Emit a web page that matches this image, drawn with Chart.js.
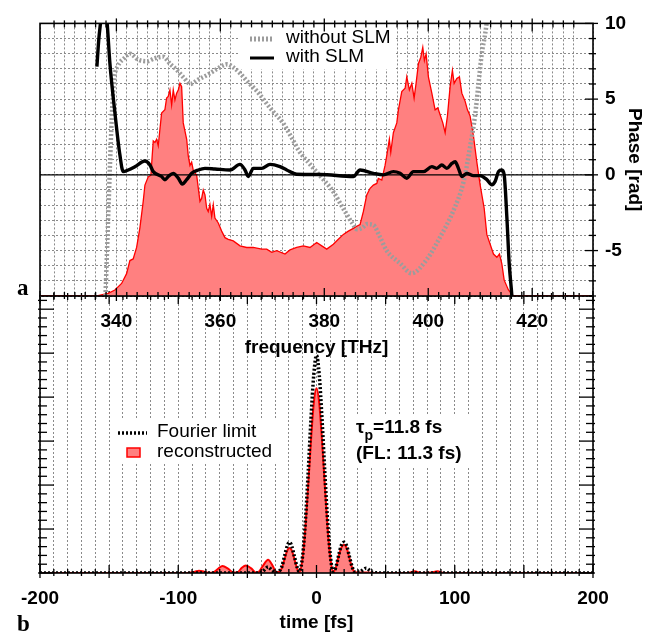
<!DOCTYPE html>
<html>
<head>
<meta charset="utf-8">
<script src="https://cdn.jsdelivr.net/npm/chart.js@4.4.0/dist/chart.umd.min.js"></script>
<style>
  body { margin: 0; background: #fff; }
  #wrap { position: relative; width: 653px; height: 634px; }
  canvas { position: absolute; left: 0; top: 0; }
</style>
</head>
<body>
<div id="wrap">
  <canvas id="timeChart" width="653" height="634"></canvas>
  <canvas id="freqChart" width="653" height="365"></canvas>
</div>
<script>
"use strict";
// ---- panel a : spectrum (normalised) and spectral phase ----
const specFreq = [325, 336.25, 338.42, 339.71, 341.0, 341.96, 342.6, 343.23, 343.89, 344.52,
  345.16, 345.49, 346.12, 346.64, 346.89, 347.09, 347.41, 347.74, 348.05, 348.37,
  348.7, 349.33, 349.66, 349.97, 350.3, 350.63, 350.94, 351.26, 351.59, 351.9,
  352.23, 352.55, 352.86, 353.52, 353.82, 354.15, 354.48, 354.79, 355.44, 356.08,
  356.4, 356.71, 357.04, 357.37, 357.67, 358.0, 358.33, 358.64, 358.96, 359.6,
  360.25, 360.89, 361.52, 362.49, 363.78, 365.07, 366.34, 367.96, 368.92, 369.88,
  370.84, 372.44, 373.4, 374.69, 375.96, 377.25, 378.54, 379.51, 380.47, 381.74,
  382.7, 383.67, 384.63, 385.59, 386.25, 386.88, 387.52, 388.17, 388.81, 389.44,
  390.1, 390.4, 391.06, 391.69, 392.02, 392.52, 392.79, 393.29, 393.95, 394.26,
  394.91, 395.55, 395.87, 396.37, 396.84, 397.28, 397.66, 398.11, 398.57, 398.95,
  399.26, 399.59, 400.03, 400.69, 401.32, 401.84, 402.28, 402.8, 403.25, 403.69,
  404.21, 404.65, 404.98, 405.5, 406.0, 406.46, 407.1, 407.54, 408.06, 408.7,
  409.35, 409.99, 410.76, 411.27, 411.91, 412.55, 413.2, 413.7, 414.16, 414.61,
  415.43, 416.4, 432];
const spectrum = [0, 0, 0.010, 0.022, 0.046, 0.082, 0.130, 0.136, 0.178, 0.250,
  0.347, 0.407, 0.437, 0.443, 0.515, 0.569, 0.563, 0.575, 0.551, 0.611,
  0.671, 0.683, 0.726, 0.732, 0.756, 0.701, 0.756, 0.719, 0.744, 0.756,
  0.780, 0.768, 0.635, 0.575, 0.515, 0.479, 0.491, 0.461, 0.443, 0.347,
  0.358, 0.389, 0.371, 0.322, 0.310, 0.335, 0.292, 0.335, 0.286, 0.268,
  0.238, 0.214, 0.208, 0.202, 0.184, 0.178, 0.178, 0.172, 0.172, 0.160,
  0.166, 0.154, 0.169, 0.178, 0.184, 0.178, 0.196, 0.184, 0.172, 0.190,
  0.208, 0.226, 0.238, 0.248, 0.256, 0.262, 0.310, 0.371, 0.395, 0.407,
  0.413, 0.431, 0.425, 0.479, 0.515, 0.575, 0.527, 0.599, 0.635, 0.683,
  0.750, 0.762, 0.804, 0.756, 0.780, 0.726, 0.780, 0.852, 0.876, 0.912,
  0.864, 0.888, 0.804, 0.744, 0.683, 0.690, 0.665, 0.635, 0.599, 0.660,
  0.768, 0.828, 0.780, 0.798, 0.804, 0.744, 0.714, 0.683, 0.660, 0.587,
  0.491, 0.407, 0.322, 0.226, 0.190, 0.154, 0.142, 0.154, 0.118, 0.058,
  0.022, 0, 0];

const slmFreq = [336.25, 336.6, 337.0, 337.4, 337.8, 338.2, 338.75, 339.71, 340.67, 341.31,
  342.27, 343.56, 345.49, 346.45, 347.09, 348.7, 349.34, 349.97, 350.94, 351.9,
  352.67, 353.52, 354.48, 355.75, 357.04, 358.96, 361.85, 363.78, 364.74, 365.38,
  366.34, 367.96, 369.56, 371.48, 372.77, 374.69, 379.2, 385.59, 386.88, 389.44,
  391.37, 393.29, 394.58, 395.87, 397.14, 399.07, 400.69, 401.65, 402.61, 403.57,
  404.54, 405.17, 405.81, 406.46, 407.42, 408.7, 409.99, 411.27, 412.24, 412.87,
  413.51, 414.16, 414.61, 415.13, 415.57, 416.09, 416.34];
const withSLM = [7.15, 8.9, 10.2, 11.5, 11.3, 10.1, 7.36, 4.11, 1.32, 0.21,
  0.32, 0.54, 0.91, 0.65, 0.21, -0.11, -0.32, -0.11, 0.10, -0.22,
  -0.61, -0.32, 0.10, 0.32, 0.43, 0.39, 0.32, 0.69, 0.32, -0.11,
  0.43, 0.43, 0.69, 0.54, 0.32, 0.04, 0.02, -0.11, 0.32, 0.10,
  0, 0.21, 0.10, -0.22, 0.21, 0.21, 0.54, 0.43, 0.65, 0.43,
  0.75, 0.86, 0.43, -0.11, 0.10, -0.05, -0.05, -0.32, -0.65, -0.43,
  0.21, 0.32, 0, -2.82, -5.83, -8.0, -9.5];

const noSlmFreq = [337.9, 338.4, 338.8, 339.2, 339.6, 340.3, 341.5, 342.6, 344.2, 345.9,
  347.4, 349.0, 350.4, 351.7, 353.0, 354.2, 355.8, 357.5, 359.4, 361.3,
  362.5, 363.8, 365.4, 367.1, 369.6, 372.1, 373.8, 375.3, 377.0, 378.5,
  380.2, 381.7, 383.1, 384.3, 385.4, 386.3, 387.3, 388.2, 389.4, 390.7,
  392.0, 394.6, 396.8, 399.7, 402.3, 404.8, 406.8, 408.1, 409.0, 409.7,
  410.3, 410.95, 411.6];
const withoutSLM = [-8, -3, 1, 4.5, 6.4, 7.2, 7.7, 8.0, 7.6, 7.5,
  7.7, 7.8, 7.3, 6.9, 6.4, 6.0, 6.3, 6.6, 7.0, 7.3,
  7.1, 6.7, 6.1, 5.5, 4.4, 3.4, 2.4, 1.5, 0.8, 0.2,
  -0.45, -1.1, -1.9, -2.6, -3.2, -3.6, -3.5, -3.25, -3.3, -4.1,
  -5.0, -5.85, -6.5, -5.6, -4.1, -2.4, -0.45, 1.95, 3.9, 6.1,
  8.0, 9.3, 11];

const freqTickLabels = [340, 360, 380, 400, 420];
const phaseTickLabels = [-5, 0, 5, 10];

// ---- panel b : temporal intensity ----
const timeFs = [-200, -95, -92, -88, -85, -81, -78, -75, -71, -68, -64, -60, -57, -54, -51, -47, -44, -42, -39, -35, -32, -29, -27, -25, -23, -21, -19.5, -18, -16, -14, -12.5, -10, -8, -6, -4, -2, 0, 2, 4, 6, 8, 10, 12, 14, 16, 18, 20, 22, 24, 26, 28, 31, 34, 36, 38, 41, 50, 66, 71, 76, 83, 87.5, 92, 100, 200];
const fourierLimit = [0, 0, 0, 0, 0, 0, 0, 0, 0, 0, 0, 0, 0, 0, 0, 0, 0, 0, 0.03, 0.14, 0.05, 0.01, 0.04, 0.15, 0.4, 0.63, 0.7, 0.62, 0.38, 0.13, 0.03, 0.4, 1.2, 2.3, 3.5, 4.5, 4.95, 4.5, 3.5, 2.3, 1.2, 0.4, 0.03, 0.13, 0.4, 0.63, 0.7, 0.6, 0.35, 0.12, 0.02, 0.02, 0.08, 0.11, 0.07, 0.01, 0, 0, 0, 0, 0, 0, 0, 0, 0];
const reconstructed = [0, 0, 0.005, 0.03, 0.05, 0.03, 0.005, 0.01, 0.1, 0.16, 0.1, 0.01, 0.02, 0.12, 0.17, 0.1, 0.01, 0.02, 0.15, 0.3, 0.18, 0.02, 0.02, 0.12, 0.33, 0.52, 0.57, 0.52, 0.32, 0.1, 0.02, 0.35, 1.05, 2.0, 3.0, 3.85, 4.2, 3.85, 3.0, 2.0, 1.05, 0.35, 0.03, 0.12, 0.38, 0.58, 0.64, 0.55, 0.32, 0.1, 0.02, 0.01, 0.01, 0.01, 0.01, 0, 0, 0, 0.04, 0, 0.01, 0.04, 0, 0, 0];
const timeTickLabels = [-200, -100, 0, 100, 200];

const toPts = (xs, ys) => xs.map((x, i) => ({ x: x, y: ys[i] }));
const sans = '"Liberation Sans", Arial, Helvetica, sans-serif';
const tickFont = { family: sans, size: 19, weight: 'bold' };
const gridGray = '#8a8a8a';
const noSlmGray = '#9c9c9c';

function seg(ctx, x1, y1, x2, y2) {
  ctx.beginPath(); ctx.moveTo(x1, y1); ctx.lineTo(x2, y2); ctx.stroke();
}
function isWhole(v) { return Math.abs(v - Math.round(v)) < 1e-6; }

// ticks crossing the frame, pointing inward
function xTicks(ctx, a, scale, majorEvery, edges) {
  scale.ticks.forEach(t => {
    if (!isWhole(t.value)) return;
    const p = scale.getPixelForValue(t.value);
    const major = Math.round(t.value) % majorEvery === 0;
    const inL = major ? 8 : 4, outL = major ? 5 : 3;
    if (edges.includes('top')) seg(ctx, p, a.top - outL, p, a.top + inL);
    if (edges.includes('bottom')) seg(ctx, p, a.bottom + outL, p, a.bottom - inL);
  });
}

const freqDecor = {
  id: 'freqDecor',
  beforeDatasetsDraw(chart) {
    const ctx = chart.ctx;
    ctx.save();
    ctx.fillStyle = '#fff';
    ctx.fillRect(238, 27, 158, 42);
    ctx.restore();
  },
  afterDatasetsDraw(chart) {
    const { ctx, chartArea: a, scales } = chart;
    const ys = scales.yph;
    ctx.save();
    ctx.strokeStyle = '#000';
    ctx.lineWidth = 1.3;
    const y0 = ys.getPixelForValue(0);
    seg(ctx, a.left, y0, a.right, y0);
    ctx.lineWidth = 1.6;
    ctx.strokeRect(a.left, a.top, a.right - a.left, a.bottom - a.top);
    ctx.lineWidth = 1.3;
    xTicks(ctx, a, scales.xf, 20, ['top', 'bottom']);
    ys.ticks.forEach(t => {
      if (!isWhole(t.value)) return;
      const p = ys.getPixelForValue(t.value);
      const major = Math.round(t.value) % 5 === 0;
      seg(ctx, a.right + (major ? 5 : 3), p, a.right - (major ? 8 : 4), p);
    });
    // legend
    ctx.setLineDash([2, 2]);
    ctx.strokeStyle = noSlmGray;
    ctx.lineWidth = 5;
    seg(ctx, 250, 39, 274, 39);
    ctx.setLineDash([]);
    ctx.strokeStyle = '#000';
    ctx.lineWidth = 3;
    seg(ctx, 250, 58, 274, 58);
    ctx.fillStyle = '#000';
    ctx.font = '19px ' + sans;
    ctx.textBaseline = 'middle';
    ctx.fillText('without SLM', 286, 38);
    ctx.fillText('with SLM', 286, 57);
    ctx.textBaseline = 'alphabetic';
    ctx.font = 'bold 23px "Liberation Serif", "DejaVu Serif", serif';
    ctx.fillText('a', 17, 295);
    ctx.restore();
  }
};

const timeDecor = {
  id: 'timeDecor',
  beforeDatasetsDraw(chart) {
    const ctx = chart.ctx;
    ctx.save();
    ctx.fillStyle = '#fff';
    ctx.fillRect(112, 420, 164, 44);
    ctx.fillRect(352, 414, 118, 52);
    ctx.restore();
  },
  afterDatasetsDraw(chart) {
    const { ctx, chartArea: a, scales } = chart;
    const ys = scales.yt;
    ctx.save();
    ctx.strokeStyle = '#000';
    ctx.lineWidth = 1.6;
    ctx.strokeRect(a.left, a.top, a.right - a.left, a.bottom - a.top);
    ctx.lineWidth = 1.3;
    xTicks(ctx, a, scales.xt, 50, ['top', 'bottom']);
    for (let k = 0; k <= 31; k++) {
      const p = ys.getPixelForValue(k / 5);
      const major = k % 5 === 0;
      const L = major ? 14 : 7;
      seg(ctx, a.left - 2, p, a.left + L, p);
      seg(ctx, a.right + 2, p, a.right - L, p);
    }
    // legend
    ctx.setLineDash([2, 2]);
    ctx.lineWidth = 3.5;
    seg(ctx, 118, 433, 147, 433);
    ctx.setLineDash([]);
    ctx.fillStyle = '#ff8080';
    ctx.fillRect(127, 448, 13, 9);
    ctx.strokeStyle = '#ff0000';
    ctx.lineWidth = 1.5;
    ctx.strokeRect(127, 448, 13, 9);
    ctx.fillStyle = '#000';
    ctx.font = '19px ' + sans;
    ctx.textBaseline = 'middle';
    ctx.fillText('Fourier limit', 157, 432);
    ctx.fillText('reconstructed', 157, 452);
    // pulse duration
    ctx.textBaseline = 'alphabetic';
    ctx.font = 'bold 19px ' + sans;
    let x = 356;
    ctx.fillText('τ', x, 433);
    x += ctx.measureText('τ').width;
    ctx.font = 'bold 14px ' + sans;
    ctx.fillText('p', x, 440);
    x += ctx.measureText('p').width;
    ctx.font = 'bold 19px ' + sans;
    ctx.fillText('=11.8 fs', x, 433);
    ctx.fillText('(FL: 11.3 fs)', 356, 459);
    ctx.font = 'bold 23px "Liberation Serif", "DejaVu Serif", serif';
    ctx.fillText('b', 17, 631);
    ctx.restore();
  }
};

new Chart(document.getElementById('timeChart'), {
  type: 'line',
  data: {
    datasets: [
      { label: 'Fourier limit', data: toPts(timeFs, fourierLimit), xAxisID: 'xt', yAxisID: 'yt',
        borderColor: '#000', borderWidth: 3.5, borderDash: [2, 2], pointRadius: 0,
        cubicInterpolationMode: 'monotone', fill: false },
      { label: 'reconstructed', data: toPts(timeFs, reconstructed), xAxisID: 'xt', yAxisID: 'yt',
        borderColor: '#ff0000', borderWidth: 2, backgroundColor: '#ff8080', pointRadius: 0,
        cubicInterpolationMode: 'monotone', fill: 'origin' }
    ]
  },
  options: {
    responsive: false, animation: false, events: [],
    layout: { padding: { top: 296, left: 40, right: 60, bottom: 0 } },
    plugins: { legend: { display: false }, tooltip: { enabled: false } },
    scales: {
      xt: {
        type: 'linear', position: 'bottom', min: -200, max: 200,
        afterFit: s => { s.height = 61; },
        grid: { color: gridGray, lineWidth: 1, drawTicks: false },
        border: { display: false, dash: [2, 2] },
        ticks: {
          stepSize: 10, autoSkip: false, maxRotation: 0, padding: 14, color: '#000', font: tickFont,
          callback: v => timeTickLabels.includes(v) ? String(v) : ''
        },
        title: { display: true, text: 'time [fs]', color: '#000', font: tickFont, padding: { top: 0, bottom: 0 } }
      },
      yt: { type: 'linear', display: false, min: 0, max: 6.3 }
    }
  },
  plugins: [timeDecor]
});

new Chart(document.getElementById('freqChart'), {
  type: 'line',
  data: {
    datasets: [
      { label: 'with SLM', data: toPts(slmFreq, withSLM), xAxisID: 'xf', yAxisID: 'yph',
        borderColor: '#000', borderWidth: 3.4, pointRadius: 0, cubicInterpolationMode: 'monotone', fill: false },
      { label: 'without SLM', data: toPts(noSlmFreq, withoutSLM), xAxisID: 'xf', yAxisID: 'yph',
        borderColor: noSlmGray, borderWidth: 4.5, borderDash: [2, 2], pointRadius: 0,
        cubicInterpolationMode: 'monotone', fill: false },
      { label: 'spectrum', data: toPts(specFreq, spectrum), xAxisID: 'xf', yAxisID: 'yamp',
        borderColor: '#ff0000', borderWidth: 1.3, backgroundColor: '#ff8080', pointRadius: 0, tension: 0, fill: 'origin' }
    ]
  },
  options: {
    responsive: false, animation: false, events: [],
    layout: { padding: { top: 19, left: 40, right: 0, bottom: 0 } },
    plugins: { legend: { display: false }, tooltip: { enabled: false } },
    scales: {
      xf: {
        type: 'linear', position: 'bottom', min: 325.3, max: 431.7,
        afterFit: s => { s.height = 69; },
        grid: { color: gridGray, lineWidth: 1, drawTicks: false },
        border: { display: false, dash: [2, 2] },
        ticks: {
          stepSize: 2, autoSkip: false, maxRotation: 0, padding: 14, color: '#000', font: tickFont,
          callback: v => freqTickLabels.some(f => Math.abs(f - v) < 1e-6) ? String(Math.round(v)) : ''
        },
        title: { display: true, text: 'frequency [THz]', color: '#000', font: tickFont, padding: { top: 0, bottom: 6 } }
      },
      yph: {
        type: 'linear', position: 'right', min: -8, max: 10,
        afterFit: s => { s.width = 60; },
        grid: { color: gridGray, lineWidth: 1, drawTicks: false },
        border: { display: false, dash: [2, 2] },
        ticks: {
          stepSize: 1, autoSkip: false, padding: 12, color: '#000', font: tickFont,
          callback: v => phaseTickLabels.includes(v) ? String(v) : ''
        },
        title: { display: true, text: 'Phase [rad]', color: '#000', font: tickFont, padding: { top: 7, bottom: 0 } }
      },
      yamp: { type: 'linear', display: false, min: 0, max: 1 }
    }
  },
  plugins: [freqDecor]
});
</script>
</body>
</html>
